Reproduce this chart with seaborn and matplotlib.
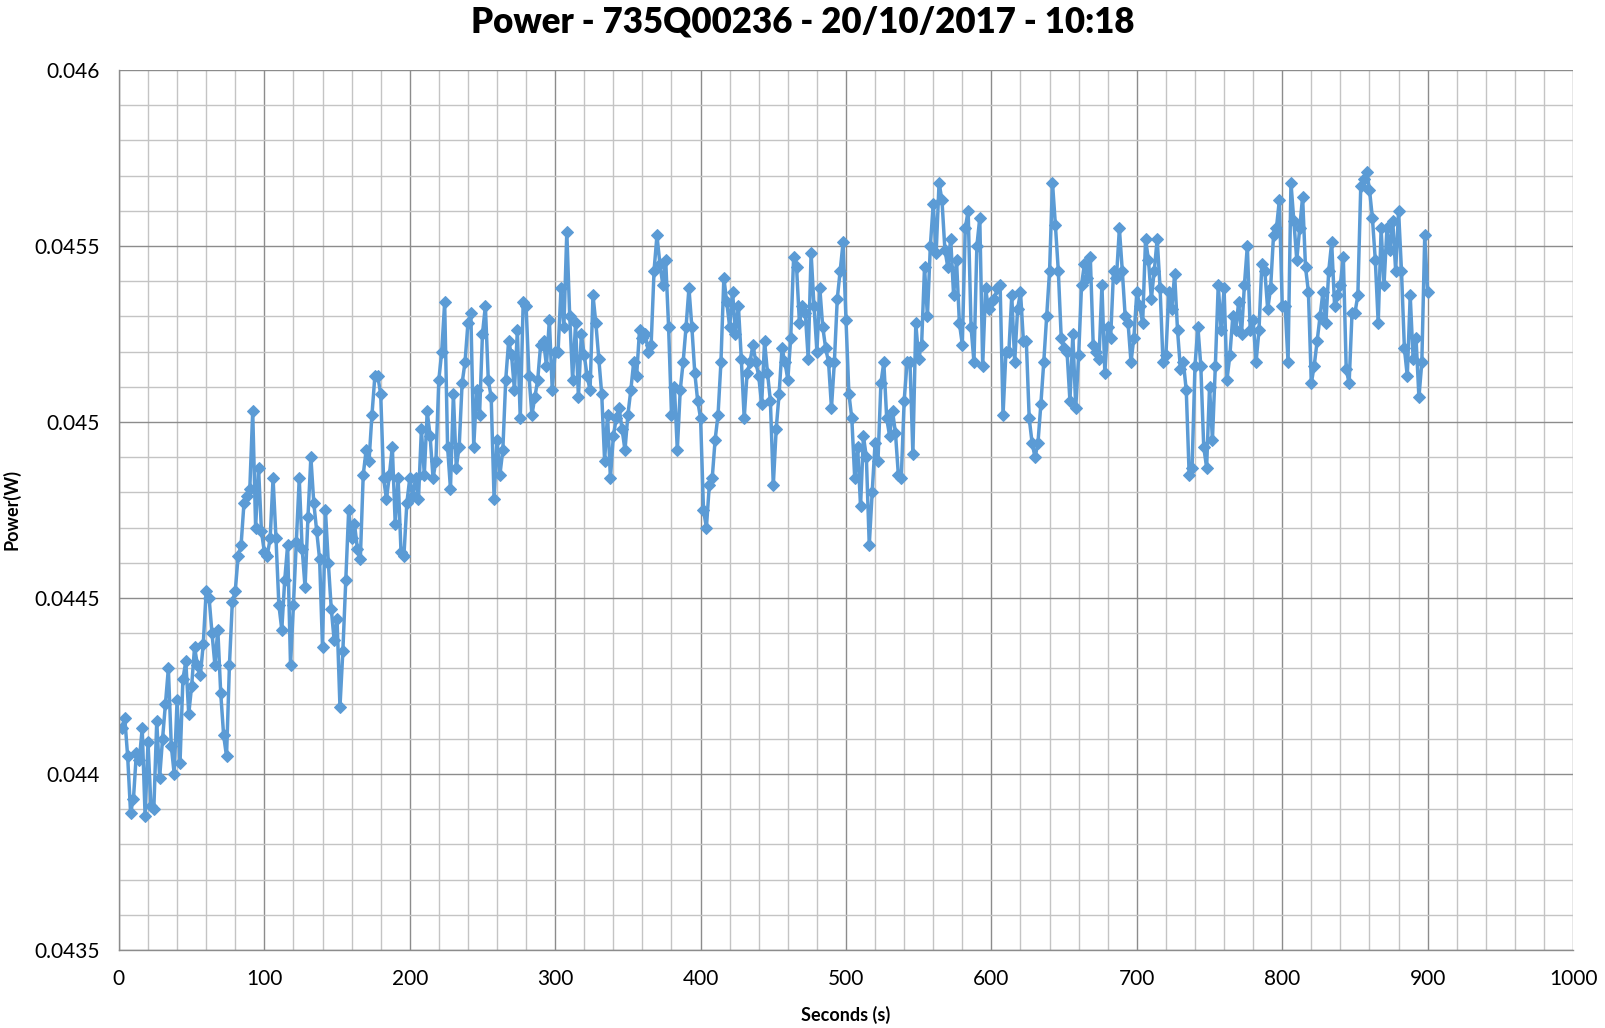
import numpy as np
import pandas as pd
import matplotlib
matplotlib.use("Agg")
import matplotlib.pyplot as plt
from matplotlib.ticker import MultipleLocator, FuncFormatter
import seaborn as sns

# Power readings (W), one sample every 2 s in 100 s blocks
p_000 = [0.04413, 0.04416, 0.04405, 0.04389, 0.04393, 0.04406, 0.04404, 0.04413, 0.04388, 0.04409,
         0.04391, 0.04390, 0.04415, 0.04399, 0.04410, 0.04420, 0.04430, 0.04408, 0.04400, 0.04421,
         0.04403, 0.04427, 0.04432, 0.04417, 0.04425, 0.04436, 0.04431, 0.04428, 0.04437, 0.04452,
         0.04450, 0.04440, 0.04431, 0.04441, 0.04423, 0.04411, 0.04405, 0.04431, 0.04449, 0.04452,
         0.04462, 0.04465, 0.04477, 0.04479, 0.04481, 0.04503, 0.04470, 0.04487, 0.04469, 0.04463]
p_100 = [0.04462, 0.04467, 0.04484, 0.04467, 0.04448, 0.04441, 0.04455, 0.04465, 0.04431, 0.04448,
         0.04466, 0.04484, 0.04464, 0.04453, 0.04473, 0.04490, 0.04477, 0.04469, 0.04461, 0.04436,
         0.04475, 0.04460, 0.04447, 0.04438, 0.04444, 0.04419, 0.04435, 0.04455, 0.04475, 0.04467,
         0.04471, 0.04464, 0.04461, 0.04485, 0.04492, 0.04489, 0.04502, 0.04513, 0.04513, 0.04508,
         0.04484, 0.04478, 0.04485, 0.04493, 0.04471, 0.04484, 0.04463, 0.04462, 0.04477, 0.04484]
p_200 = [0.04479, 0.04484, 0.04478, 0.04498, 0.04485, 0.04503, 0.04496, 0.04484, 0.04489, 0.04512,
         0.04520, 0.04534, 0.04493, 0.04481, 0.04508, 0.04487, 0.04493, 0.04511, 0.04517, 0.04528,
         0.04531, 0.04493, 0.04509, 0.04502, 0.04525, 0.04533, 0.04512, 0.04507, 0.04478, 0.04495,
         0.04485, 0.04492, 0.04512, 0.04523, 0.04519, 0.04509, 0.04526, 0.04501, 0.04534, 0.04533,
         0.04513, 0.04502, 0.04507, 0.04512, 0.04522, 0.04523, 0.04516, 0.04529, 0.04509, 0.04520]
p_300 = [0.04520, 0.04538, 0.04527, 0.04554, 0.04530, 0.04512, 0.04528, 0.04507, 0.04525, 0.04519,
         0.04513, 0.04509, 0.04536, 0.04528, 0.04518, 0.04508, 0.04489, 0.04502, 0.04484, 0.04496,
         0.04501, 0.04504, 0.04498, 0.04492, 0.04502, 0.04509, 0.04517, 0.04513, 0.04526, 0.04524,
         0.04525, 0.04520, 0.04522, 0.04543, 0.04553, 0.04545, 0.04539, 0.04546, 0.04527, 0.04502,
         0.04510, 0.04492, 0.04509, 0.04517, 0.04527, 0.04538, 0.04527, 0.04514, 0.04506, 0.04501]
p_400 = [0.04475, 0.04470, 0.04482, 0.04484, 0.04495, 0.04502, 0.04517, 0.04541, 0.04534, 0.04527,
         0.04537, 0.04525, 0.04533, 0.04518, 0.04501, 0.04514, 0.04517, 0.04522, 0.04517, 0.04513,
         0.04505, 0.04523, 0.04514, 0.04506, 0.04482, 0.04498, 0.04508, 0.04521, 0.04517, 0.04512,
         0.04524, 0.04547, 0.04544, 0.04528, 0.04533, 0.04531, 0.04518, 0.04548, 0.04533, 0.04520,
         0.04538, 0.04527, 0.04521, 0.04517, 0.04504, 0.04517, 0.04535, 0.04543, 0.04551, 0.04529]
p_500 = [0.04508, 0.04501, 0.04484, 0.04493, 0.04476, 0.04496, 0.04490, 0.04465, 0.04480, 0.04494,
         0.04489, 0.04511, 0.04517, 0.04501, 0.04496, 0.04503, 0.04497, 0.04485, 0.04484, 0.04506,
         0.04517, 0.04517, 0.04491, 0.04528, 0.04518, 0.04522, 0.04544, 0.04530, 0.04550, 0.04562,
         0.04548, 0.04568, 0.04563, 0.04549, 0.04544, 0.04552, 0.04536, 0.04546, 0.04528, 0.04522,
         0.04555, 0.04560, 0.04527, 0.04517, 0.04550, 0.04558, 0.04516, 0.04538, 0.04532, 0.04534]
p_600 = [0.04535, 0.04538, 0.04539, 0.04502, 0.04520, 0.04520, 0.04536, 0.04517, 0.04532, 0.04537,
         0.04523, 0.04523, 0.04501, 0.04494, 0.04490, 0.04494, 0.04505, 0.04517, 0.04530, 0.04543,
         0.04568, 0.04556, 0.04543, 0.04524, 0.04521, 0.04520, 0.04506, 0.04525, 0.04504, 0.04519,
         0.04539, 0.04545, 0.04541, 0.04547, 0.04522, 0.04520, 0.04518, 0.04539, 0.04514, 0.04527,
         0.04524, 0.04543, 0.04541, 0.04555, 0.04543, 0.04530, 0.04528, 0.04517, 0.04524, 0.04537]
p_700 = [0.04533, 0.04528, 0.04552, 0.04546, 0.04535, 0.04543, 0.04552, 0.04538, 0.04517, 0.04519,
         0.04537, 0.04532, 0.04542, 0.04526, 0.04515, 0.04517, 0.04509, 0.04485, 0.04487, 0.04516,
         0.04527, 0.04516, 0.04493, 0.04487, 0.04510, 0.04495, 0.04516, 0.04539, 0.04526, 0.04538,
         0.04512, 0.04519, 0.04530, 0.04526, 0.04534, 0.04525, 0.04539, 0.04550, 0.04526, 0.04529,
         0.04517, 0.04526, 0.04545, 0.04543, 0.04532, 0.04538, 0.04553, 0.04555, 0.04563, 0.04533]
p_800 = [0.04533, 0.04517, 0.04568, 0.04557, 0.04546, 0.04555, 0.04564, 0.04544, 0.04537, 0.04511,
         0.04516, 0.04523, 0.04530, 0.04537, 0.04528, 0.04543, 0.04551, 0.04533, 0.04536, 0.04539,
         0.04547, 0.04515, 0.04511, 0.04531, 0.04531, 0.04536, 0.04567, 0.04569, 0.04571, 0.04566,
         0.04558, 0.04546, 0.04528, 0.04555, 0.04539, 0.04555, 0.04549, 0.04557, 0.04543, 0.04560,
         0.04543, 0.04521, 0.04513, 0.04536, 0.04518, 0.04524, 0.04507, 0.04517, 0.04553, 0.04537]

power = p_000 + p_100 + p_200 + p_300 + p_400 + p_500 + p_600 + p_700 + p_800
seconds = list(range(2, 2 * len(power) + 1, 2))

df = pd.DataFrame({"Seconds (s)": seconds, "Power(W)": power})

sns.set_style("white")
plt.rcParams["font.family"] = ["Lato", "DejaVu Sans"]

fig = plt.figure(figsize=(16.05, 10.28), dpi=100)
ax = fig.add_axes([0.0741, 0.0759, 0.906, 0.856])

blue = "#5B9BD5"
sns.lineplot(data=df, x="Seconds (s)", y="Power(W)", ax=ax, color=blue,
             linewidth=2.5, marker="D", markersize=6.5, markeredgecolor=blue,
             markerfacecolor=blue)

ax.set_xlim(0, 1000)
ax.set_ylim(0.0435, 0.046)
ax.xaxis.set_major_locator(MultipleLocator(100))
ax.xaxis.set_minor_locator(MultipleLocator(20))
ax.yaxis.set_major_locator(MultipleLocator(0.0005))
ax.yaxis.set_minor_locator(MultipleLocator(0.0001))
ax.yaxis.set_major_formatter(FuncFormatter(lambda v, p: ("%.4f" % v).rstrip("0")))

ax.grid(which="major", color="#8C8C8C", linewidth=1.0)
ax.grid(which="minor", color="#C4C4C4", linewidth=1.0)
ax.set_axisbelow(True)

for s in ["top", "right"]:
    ax.spines[s].set_visible(False)
for s in ["left", "bottom"]:
    ax.spines[s].set_color("#8C8C8C")
    ax.spines[s].set_linewidth(1.0)

ax.tick_params(which="major", length=6, width=1, color="#8C8C8C", labelsize=15,
               labelcolor="black", pad=8)
ax.tick_params(which="minor", length=0)

ax.set_xlabel("Seconds (s)", fontsize=13, fontweight="bold", labelpad=12, color="black")
ax.set_ylabel("Power(W)", fontsize=13, fontweight="bold", labelpad=10, color="black")
fig.suptitle("Power - 735Q00236 - 20/10/2017 - 10:18", fontsize=25,
             fontweight="heavy", color="black", y=0.995)

fig.savefig("out.png", dpi=100)
